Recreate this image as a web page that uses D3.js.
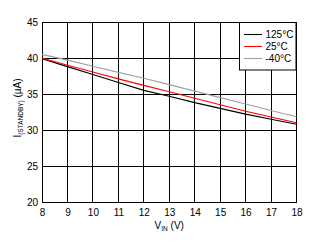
<!DOCTYPE html>
<html>
<head>
<meta charset="utf-8">
<script src="https://cdn.jsdelivr.net/npm/d3@7"></script>
<style>
  body { margin: 0; background: #fff; }
  svg text { font-family: "Liberation Sans", Arial, sans-serif; }
</style>
</head>
<body>
<div id="chart"></div>
<script>
// Input voltage (V)
var vin = [8, 9, 10, 11, 12, 13, 14, 15, 16, 17, 18];
// Standby current (uA) per temperature
var i125 = [39.9, 38.8, 37.7, 36.6, 35.5, 34.7, 33.8, 33.0, 32.2, 31.5, 30.8];
var i25 = [40.0, 39.0, 38.05, 37.1, 36.2, 35.3, 34.4, 33.5, 32.6, 31.8, 31.0];
var iM40 = [40.5, 39.7, 38.85, 38.0, 37.2, 36.3, 35.4, 34.5, 33.6, 32.7, 31.85];
var seriesNames = ['125\u00B0C', '25\u00B0C', '-40\u00B0C'];
var seriesColors = ['#000000', '#ff0000', '#a0a0a0'];
var xTicks = [8, 9, 10, 11, 12, 13, 14, 15, 16, 17, 18];
var yTicks = [20, 25, 30, 35, 40, 45];

var width = 316, height = 243;
var margin = { top: 22, right: 19.5, bottom: 41, left: 42 };

var svg = d3.select('#chart').append('svg')
  .attr('width', width)
  .attr('height', height);

var x = d3.scaleLinear().domain([8, 18]).range([margin.left, width - margin.right]);
var y = d3.scaleLinear().domain([20, 45]).range([height - margin.bottom, margin.top]);

// grid lines
var grid = svg.append('g').attr('shape-rendering', 'crispEdges');
grid.selectAll('.vg').data(xTicks).enter().append('line')
  .attr('x1', d => x(d)).attr('x2', d => x(d))
  .attr('y1', y(20)).attr('y2', y(45))
  .attr('stroke', '#000').attr('stroke-width', 1);
grid.selectAll('.hg').data(yTicks).enter().append('line')
  .attr('x1', x(8)).attr('x2', x(18))
  .attr('y1', d => y(d)).attr('y2', d => y(d))
  .attr('stroke', '#000').attr('stroke-width', 1);

// tick labels via axes, with the tick marks hidden
var xAxis = svg.append('g')
  .attr('transform', 'translate(0,' + y(20) + ')')
  .call(d3.axisBottom(x).tickValues(xTicks).tickSize(0).tickPadding(7));
var yAxis = svg.append('g')
  .attr('transform', 'translate(' + x(8) + ',0)')
  .call(d3.axisLeft(y).tickValues(yTicks).tickSize(0).tickPadding(4));
[xAxis, yAxis].forEach(function(a) {
  a.select('.domain').remove();
  a.selectAll('text').attr('font-size', 10).attr('fill', '#000')
    .attr('font-family', '"Liberation Sans", Arial, sans-serif');
});

// data lines
var allSeries = [i125, i25, iM40];
var line = d3.line().x((d, i) => x(vin[i])).y(d => y(d));
svg.selectAll('.series').data(allSeries).enter().append('path')
  .attr('fill', 'none')
  .attr('stroke', (d, i) => seriesColors[i])
  .attr('stroke-width', 1.1)
  .attr('d', line);

// legend
var lg = svg.append('g');
lg.append('rect')
  .attr('x', 239.5).attr('y', 22.5).attr('width', 56.5).attr('height', 47.5)
  .attr('fill', '#fff').attr('stroke', '#000').attr('stroke-width', 1);
seriesNames.forEach(function(name, i) {
  var ly = 34.5 + i * 12;
  lg.append('line')
    .attr('x1', 244).attr('x2', 262).attr('y1', ly).attr('y2', ly)
    .attr('stroke', seriesColors[i]).attr('stroke-width', 1.1);
  lg.append('text')
    .attr('x', 265.5).attr('y', ly + 3.5)
    .attr('font-size', 10).attr('fill', '#000')
    .text(name);
});

// axis titles
var xt = svg.append('text')
  .attr('x', (x(8) + x(18)) / 2).attr('y', 229)
  .attr('text-anchor', 'middle').attr('font-size', 10).attr('fill', '#000');
xt.append('tspan').text('V');
xt.append('tspan').attr('font-size', 6.5).attr('dy', 2).text('IN');
xt.append('tspan').attr('dy', -2).text(' (V)');

var yt = svg.append('text')
  .attr('transform', 'translate(21,' + 108 + ') rotate(-90)')
  .attr('text-anchor', 'middle').attr('font-size', 10).attr('fill', '#000');
yt.append('tspan').text('I');
yt.append('tspan').attr('font-size', 6.5).attr('dy', 2).text('(STANDBY)');
yt.append('tspan').attr('dy', -2).text(' (\u00B5A)');
</script>
</body>
</html>
